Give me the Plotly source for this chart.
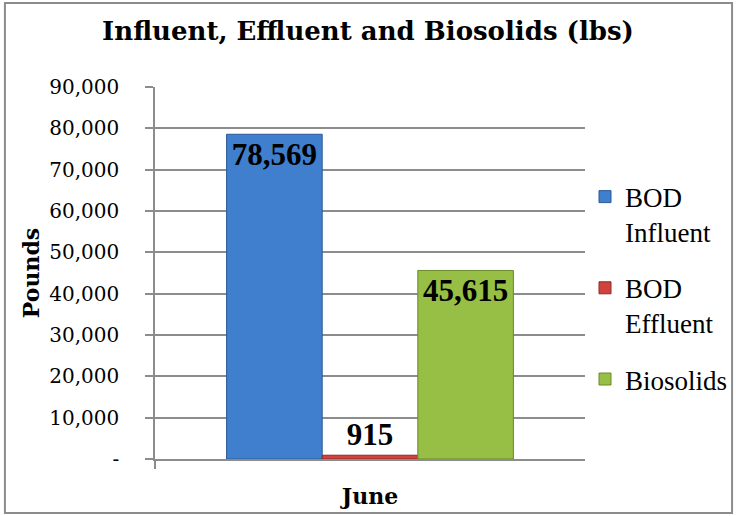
import plotly.graph_objects as go

categories = ["June"]
series_names = ["BOD<br>Influent", "BOD<br>Effluent", "Biosolids"]
series_values = [[78569], [915], [45615]]
series_colors = ["#3F7FCE", "#D0423C", "#97BE45"]
series_lines = ["#2A5A96", "#8E2A26", "#6A8A2A"]
label_positions = ["inside", "outside", "inside"]
y_tickvals = [0, 10000, 20000, 30000, 40000, 50000, 60000, 70000, 80000, 90000]
y_ticktext = ["-", "10,000", "20,000", "30,000", "40,000", "50,000", "60,000", "70,000", "80,000", "90,000"]

SERIF = "DejaVu Serif"
TIMES = "Liberation Serif"
GRID = "#8C8C8C"

fig = go.Figure()
for name, vals, col, lc, pos in zip(series_names, series_values, series_colors, series_lines, label_positions):
    fig.add_trace(go.Bar(
        x=categories, y=vals, name=name, legendgroup=name,
        marker=dict(color=col, line=dict(color=lc, width=1)),
        text=[f"{v:,}" for v in vals], textposition=pos,
        insidetextanchor="end", constraintext="none", cliponaxis=False,
        textfont=dict(family=TIMES, size=31, color="black", weight="bold"),
    ))

fig.update_layout(
    width=736, height=516,
    margin=dict(l=155, r=151, t=87, b=57, autoexpand=False),
    paper_bgcolor="white", plot_bgcolor="white",
    barmode="group", bargap=0.333, bargroupgap=0,
    font=dict(family=SERIF, size=20, color="black"),
    title=dict(text="<b>Influent, Effluent and Biosolids (lbs)</b>", x=0.5, xanchor="center",
               y=0.94, yanchor="middle", font=dict(family=SERIF, size=26, color="black")),
    showlegend=True,
    legend=dict(x=1.0, xanchor="left", y=0.77, yanchor="top", traceorder="grouped",
                valign="top", tracegroupgap=18, font=dict(family=TIMES, size=27, color="black"),
                itemwidth=30, bgcolor="rgba(0,0,0,0)"),
)
fig.update_yaxes(range=[0, 90000], tickvals=y_tickvals, ticktext=y_ticktext,
                 showgrid=True, gridcolor=GRID, gridwidth=1.5,
                 showline=True, linecolor=GRID, linewidth=1.5,
                 ticks="outside", ticklen=8, tickcolor=GRID, tickwidth=1.5,
                 ticklabelstandoff=22,
                 title=dict(text="<b>Pounds</b>", font=dict(family=SERIF, size=22), standoff=4),
                 tickfont=dict(family=SERIF, size=20), zeroline=False)
fig.update_xaxes(showline=True, linecolor=GRID, linewidth=1.5,
                 ticks="outside", ticklen=8, tickcolor=GRID, tickwidth=1.5,
                 tickmode="array", tickvals=[-0.5], ticktext=[""], range=[-0.5, 0.5],
                 title=dict(text="<b>June</b>", font=dict(family=SERIF, size=22), standoff=17))
fig.add_shape(type="rect", xref="paper", yref="paper", x0=-0.349, x1=1.342, y0=-0.145, y1=1.226,
              line=dict(color=GRID, width=2), fillcolor="rgba(0,0,0,0)", layer="below")

fig.write_html("out.html", config={"displayModeBar": False},
               post_script="document.body.style.margin='0';")
